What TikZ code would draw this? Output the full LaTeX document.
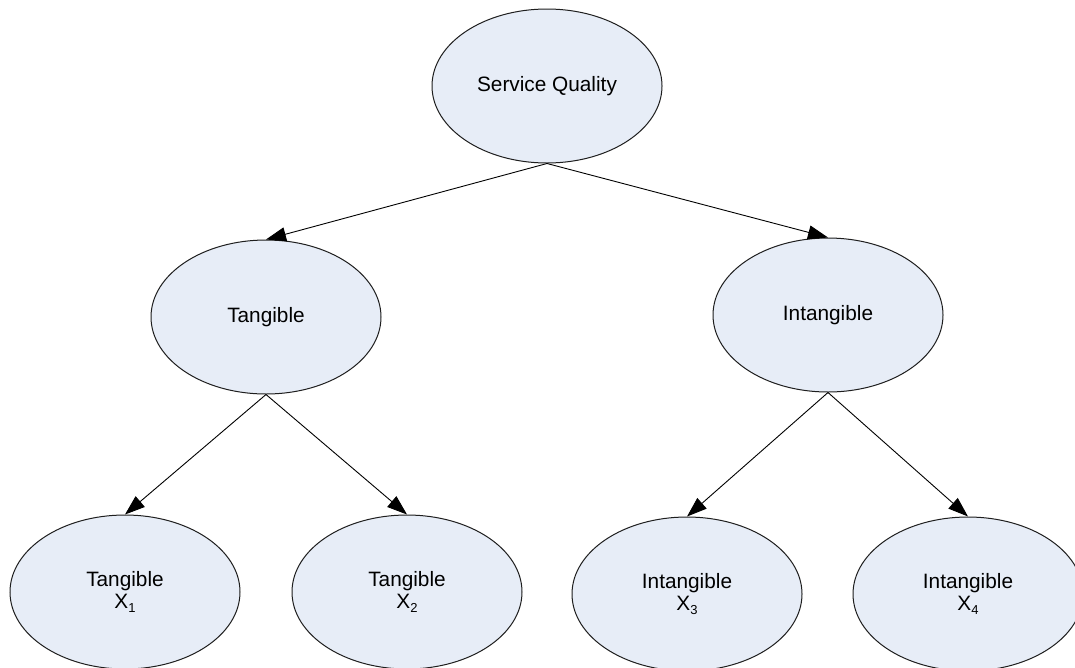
\documentclass[tikz,border=0pt]{standalone}
\usepackage{fontspec}
\setmainfont{Liberation Sans}
\usetikzlibrary{shapes.geometric,arrows.meta}
\definecolor{nodefill}{RGB}{231,237,247}
\definecolor{nodeline}{RGB}{30,30,30}
\newcommand{\idx}[1]{\raisebox{-0.3ex}{\fontsize{13}{13}\selectfont #1}}
\tikzset{
  oval/.style={ellipse, draw=nodeline, line width=1pt, fill=nodefill,
    minimum width=230pt, minimum height=154pt, inner sep=0pt,
    align=center, font=\fontsize{20.8}{22}\selectfont},
  link/.style={draw=black, line width=0.9pt,
    -{Triangle[length=20pt,width=14pt]}}
}
\begin{document}
\begin{tikzpicture}[x=1pt,y=-1pt]
  \clip (0,0) rectangle (1075,667);
  \fill[white] (0,0) rectangle (1075,667);

  \node[oval] (sq)  at (547,86)  {Service Quality};
  \node[oval] (tan) at (266,317) {Tangible};
  \node[oval] (int) at (828,315) {Intangible};
  \node[oval] (x1)  at (125,592) {Tangible\\X\idx{1}};
  \node[oval] (x2)  at (407,592) {Tangible\\X\idx{2}};
  \node[oval] (x3)  at (687,594) {Intangible\\X\idx{3}};
  \node[oval] (x4)  at (968,594) {Intangible\\X\idx{4}};

  \draw[link] (sq.south)  -- (tan.north);
  \draw[link] (sq.south)  -- (int.north);
  \draw[link] (tan.south) -- (x1.north);
  \draw[link] (tan.south) -- (x2.north);
  \draw[link] (int.south) -- (x3.north);
  \draw[link] (int.south) -- (x4.north);
\end{tikzpicture}
\end{document}
